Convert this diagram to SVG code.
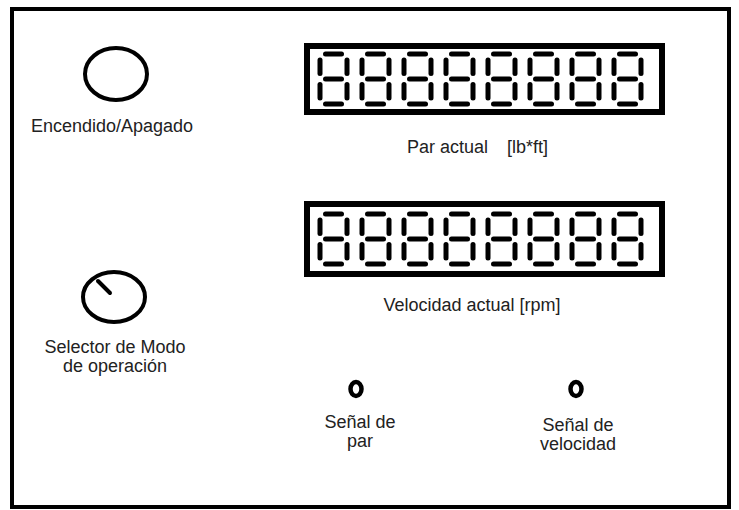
<svg xmlns="http://www.w3.org/2000/svg" xmlns:xlink="http://www.w3.org/1999/xlink" width="739" height="510" viewBox="0 0 739 510">
  <style>
    .frame { fill: none; stroke: #000; stroke-width: 4; }
    .knob { fill: none; stroke: #000; stroke-width: 4; }
    .led { fill: none; stroke: #000; stroke-width: 4.5; }
    .box { fill: #fff; stroke: #000; stroke-width: 6; }
    .seg { stroke: #000; stroke-width: 5; stroke-linecap: round; }
    .lbl { font-family: "Liberation Sans", Arial, sans-serif; font-size: 18px; fill: #222; }
    .mid { text-anchor: middle; }
  </style>
  <defs>
    <g id="digit">
      <line class="seg" x1="5.5" y1="0" x2="21.5" y2="0"/>
      <line class="seg" x1="0" y1="6" x2="0" y2="19.5"/>
      <line class="seg" x1="27" y1="6" x2="27" y2="19.5"/>
      <line class="seg" x1="5.5" y1="25" x2="21.5" y2="25"/>
      <line class="seg" x1="0" y1="30.5" x2="0" y2="44"/>
      <line class="seg" x1="27" y1="30.5" x2="27" y2="44"/>
      <line class="seg" x1="5.5" y1="50" x2="21.5" y2="50"/>
    </g>
  </defs>
  <rect width="739" height="510" fill="#fff"/>
  <rect class="frame" x="12" y="9" width="717" height="498"/>

  <g id="power">
    <ellipse class="knob" cx="116" cy="74" rx="31" ry="26"/>
    <text class="lbl mid" x="112" y="132">Encendido/Apagado</text>
  </g>

  <g id="torque-display">
    <rect class="box" x="307" y="46" width="355" height="66"/>
    <use xlink:href="#digit" x="320" y="54"/>
    <use xlink:href="#digit" x="362" y="54"/>
    <use xlink:href="#digit" x="404" y="54"/>
    <use xlink:href="#digit" x="446" y="54"/>
    <use xlink:href="#digit" x="488" y="54"/>
    <use xlink:href="#digit" x="530" y="54"/>
    <use xlink:href="#digit" x="572" y="54"/>
    <use xlink:href="#digit" x="614" y="54"/>
    <text class="lbl" y="153"><tspan x="407">Par actual</tspan><tspan x="507">[lb*ft]</tspan></text>
  </g>

  <g id="speed-display">
    <rect class="box" x="307" y="204" width="355" height="70"/>
    <use xlink:href="#digit" x="320" y="214"/>
    <use xlink:href="#digit" x="362" y="214"/>
    <use xlink:href="#digit" x="404" y="214"/>
    <use xlink:href="#digit" x="446" y="214"/>
    <use xlink:href="#digit" x="488" y="214"/>
    <use xlink:href="#digit" x="530" y="214"/>
    <use xlink:href="#digit" x="572" y="214"/>
    <use xlink:href="#digit" x="614" y="214"/>
    <text class="lbl mid" x="472" y="311">Velocidad actual [rpm]</text>
  </g>

  <g id="mode-selector">
    <ellipse class="knob" cx="114" cy="297" rx="31" ry="25"/>
    <line class="knob" x1="98" y1="281" x2="110" y2="293" stroke-linecap="round"/>
    <text class="lbl mid" x="115" y="353">Selector de Modo</text>
    <text class="lbl mid" x="115" y="372">de operación</text>
  </g>

  <g id="torque-led">
    <ellipse class="led" cx="356" cy="389" rx="5.5" ry="7"/>
    <text class="lbl mid" x="360" y="428">Señal de</text>
    <text class="lbl mid" x="360" y="447">par</text>
  </g>

  <g id="speed-led">
    <ellipse class="led" cx="576" cy="389" rx="5.5" ry="7"/>
    <text class="lbl mid" x="578" y="431">Señal de</text>
    <text class="lbl mid" x="578" y="450">velocidad</text>
  </g>

  <g id="connectors"/>
</svg>
